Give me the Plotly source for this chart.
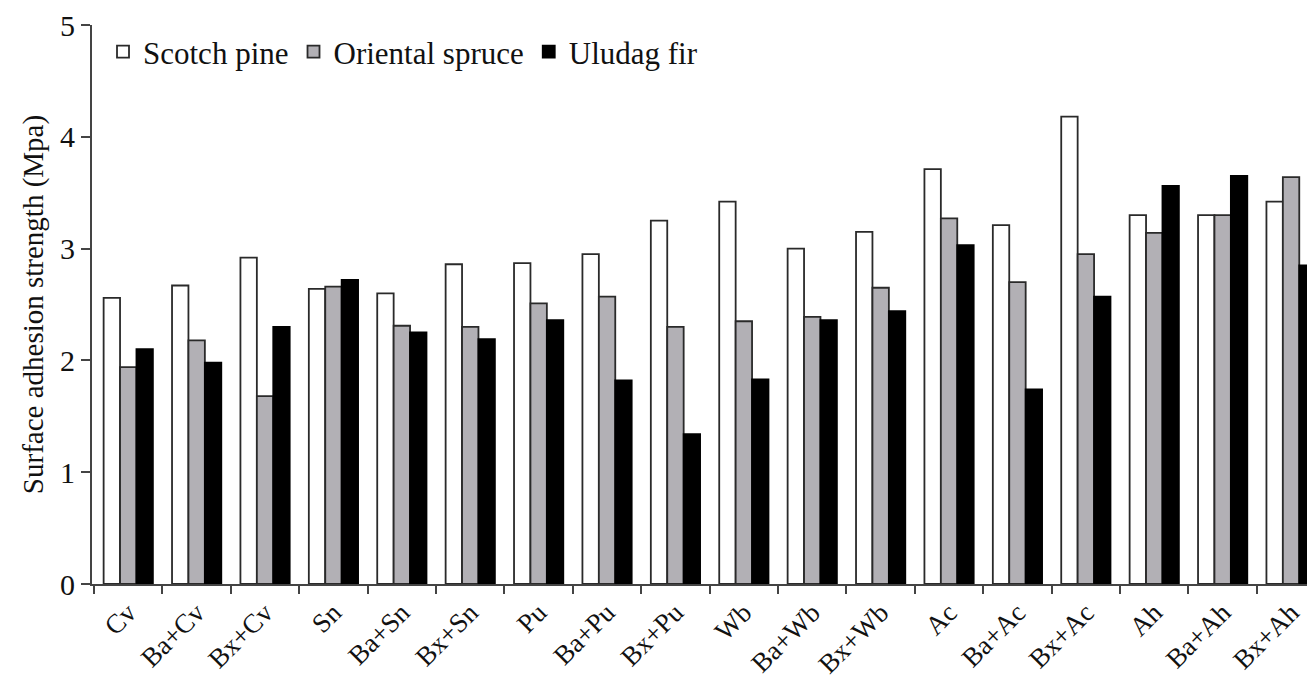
import plotly.graph_objects as go

categories = ["Cv", "Ba+Cv", "Bx+Cv", "Sn", "Ba+Sn", "Bx+Sn", "Pu", "Ba+Pu", "Bx+Pu",
              "Wb", "Ba+Wb", "Bx+Wb", "Ac", "Ba+Ac", "Bx+Ac", "Ah", "Ba+Ah", "Bx+Ah"]
scotch_pine = [2.56, 2.67, 2.92, 2.64, 2.60, 2.86, 2.87, 2.95, 3.25,
               3.42, 3.00, 3.15, 3.71, 3.21, 4.18, 3.30, 3.30, 3.42]
oriental_spruce = [1.94, 2.18, 1.68, 2.66, 2.31, 2.30, 2.51, 2.57, 2.30,
                   2.35, 2.39, 2.65, 3.27, 2.70, 2.95, 3.14, 3.30, 3.64]
uludag_fir = [2.10, 1.98, 2.30, 2.72, 2.25, 2.19, 2.36, 1.82, 1.34,
              1.83, 2.36, 2.44, 3.03, 1.74, 2.57, 3.56, 3.65, 2.85]
y_ticks = [0, 1, 2, 3, 4, 5]

FONT = "Liberation Serif, Times New Roman, serif"

fig = go.Figure()
fig.add_trace(go.Bar(name="Scotch pine", x=categories, y=scotch_pine,
                     marker=dict(color="white", line=dict(color="#2a2a2a", width=1.8))))
fig.add_trace(go.Bar(name="Oriental spruce", x=categories, y=oriental_spruce,
                     marker=dict(color="#b2b0b5", line=dict(color="#2a2a2a", width=1.8))))
fig.add_trace(go.Bar(name="Uludag fir", x=categories, y=uludag_fir,
                     marker=dict(color="black", line=dict(color="black", width=1.8))))

fig.update_layout(
    width=1315, height=679,
    margin=dict(l=84, r=8, t=17, b=103, autoexpand=False),
    paper_bgcolor="white", plot_bgcolor="white",
    barmode="group", bargap=0.28, bargroupgap=0,
    font=dict(family=FONT, size=30, color="#111"),
    showlegend=True,
    legend=dict(orientation="h", x=0.009, y=1.0, xanchor="left", yanchor="top",
                font=dict(family=FONT, size=31, color="#111"),
                bgcolor="rgba(0,0,0,0)", traceorder="normal",
                itemwidth=30),
    xaxis=dict(range=[-0.53, 17.35], showline=True, linecolor="#444", linewidth=2,
               ticks="outside", ticklen=8, tickwidth=2, tickcolor="#444",
               tickson="boundaries", tickangle=-45, automargin=False,
               tickfont=dict(family=FONT, size=27, color="#111"),
               showgrid=False, zeroline=False),
    yaxis=dict(range=[0, 5], tickvals=y_ticks, showline=True, linecolor="#444", linewidth=2,
               ticks="outside", ticklen=9, tickwidth=2, tickcolor="#444", automargin=False,
               tickfont=dict(family=FONT, size=30, color="#111"),
               title=dict(text="Surface adhesion strength (Mpa)",
                          font=dict(family=FONT, size=29, color="#111"), standoff=8),
               showgrid=False, zeroline=False),
)

fig.write_html("out.html")
